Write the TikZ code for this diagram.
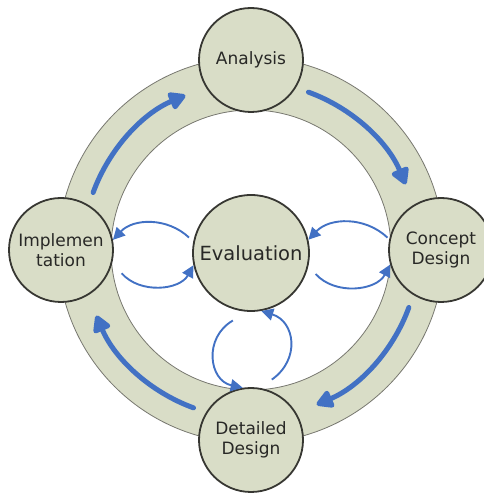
\documentclass[tikz,border=0pt]{standalone}
\usepackage{fontspec}
\setmainfont{DejaVu Sans}
\usetikzlibrary{arrows.meta}
\definecolor{ringfill}{RGB}{217,221,199}
\definecolor{flowblue}{RGB}{66,113,196}
\definecolor{edgegrey}{RGB}{55,55,50}
\definecolor{ringedge}{RGB}{120,120,112}
\definecolor{labelgrey}{RGB}{40,40,38}
\begin{document}
\begin{tikzpicture}[x=1pt,y=1pt,
  phase/.style={circle, draw=edgegrey, line width=1.8pt, fill=ringfill,
    minimum size=104pt, inner sep=0pt, align=center, text=labelgrey,
    font=\fontsize{17}{20}\selectfont},
  hub/.style={phase, minimum size=116pt, font=\fontsize{19.5}{22}\selectfont},
  ringarrow/.style={draw=flowblue, line width=5pt, line cap=round,
    -{Triangle[length=19pt,width=20pt,round]}},
  evalarrow/.style={draw=flowblue, line width=1.9pt,
    -{Triangle[length=12pt,width=12pt]}},
  ringline/.style={draw=ringedge, line width=0.8pt},
]
\useasboundingbox (0,0) rectangle (484,493);

% the cycle ring
\coordinate (ctr) at (251,243);
\fill[ringfill, even odd rule] (ctr) circle[radius=193pt] (ctr) circle[radius=140pt];
\draw[ringline] (ctr) circle[radius=193pt];
\draw[ringline] (ctr) circle[radius=140pt];

% phases
\node[phase] (ana) at (251,433) {Analysis};
\node[phase] (con) at (441,243) {Concept\\Design};
\node[phase] (det) at (251,53) {Detailed\\Design};
\node[phase] (imp) at (61,243) {Implemen\\tation};
\node[hub] (eva) at (251,240) {Evaluation};

% clockwise flow along the ring
\draw[ringarrow] ([shift={(160:168pt)}]ctr) arc[start angle=160, end angle=113, radius=168pt];
\draw[ringarrow] ([shift={(70:168pt)}]ctr) arc[start angle=70, end angle=23, radius=168pt];
\draw[ringarrow] ([shift={(-20:168pt)}]ctr) arc[start angle=-20, end angle=-67, radius=168pt];
\draw[ringarrow] ([shift={(-110:168pt)}]ctr) arc[start angle=-110, end angle=-157, radius=168pt];

% feedback loops with the evaluation hub
\draw[evalarrow] ([shift={(166:5pt)}]eva.166) to[bend right=45] (imp.11);
\draw[evalarrow] ([shift={(-21:12pt)}]imp.-21) to[bend right=55] (eva.192);
\draw[evalarrow] ([shift={(167:2pt)}]con.167) to[bend right=45] (eva.13);
\draw[evalarrow] ([shift={(-18:9pt)}]eva.-18) to[bend right=55] (con.196);
\draw[evalarrow] ([shift={(255:11pt)}]eva.255) to[out=210, in=168, looseness=1.3] (det.99);
\draw[evalarrow] ([shift={(71:11pt)}]det.71) to[out=35, in=-17, looseness=1.3] (eva.280);
\end{tikzpicture}
\end{document}
